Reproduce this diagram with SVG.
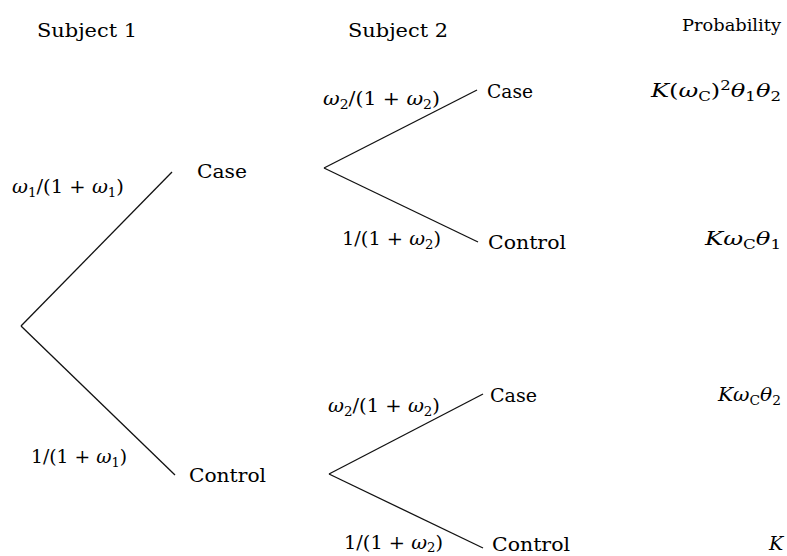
<svg xmlns="http://www.w3.org/2000/svg" width="787" height="556" viewBox="0 0 787 556" font-family="'DejaVu Serif', 'Liberation Serif', serif">
<style>
text{font-family:"DejaVu Serif","Liberation Serif",serif;font-size:19px;fill:#000;font-weight:normal}
.m{font-style:italic}
.r{font-style:normal}
.s{font-size:13px}
.edge{stroke:#111;stroke-width:1.3;fill:none}
</style>
<rect width="787" height="556" fill="#fff"/>
<g id="headers">
<text x="37" y="37" textLength="100" lengthAdjust="spacingAndGlyphs">Subject 1</text>
<text x="348" y="37" textLength="100" lengthAdjust="spacingAndGlyphs">Subject 2</text>
<text x="682" y="31" textLength="99" lengthAdjust="spacingAndGlyphs" style="font-size:17px">Probability</text>
</g>
<g id="connectors">
<line class="edge" x1="21" y1="326" x2="172" y2="172"/>
<line class="edge" x1="21" y1="326" x2="175" y2="475"/>
<line class="edge" x1="324" y1="168" x2="477" y2="90"/>
<line class="edge" x1="324" y1="168" x2="478" y2="242"/>
<line class="edge" x1="329" y1="474" x2="483" y2="394"/>
<line class="edge" x1="329" y1="474" x2="483" y2="548"/>
<text class="m" x="12" y="193" textLength="112" lengthAdjust="spacingAndGlyphs">ω<tspan class="s r" dy="4">1</tspan><tspan class="r" dy="-4">/(1 + </tspan>ω<tspan class="s r" dy="4">1</tspan><tspan class="r" dy="-4">)</tspan></text>
<text class="r" x="31" y="463" textLength="96" lengthAdjust="spacingAndGlyphs">1/(1 + <tspan class="m">ω</tspan><tspan class="s" dy="4">1</tspan><tspan dy="-4">)</tspan></text>
<text class="m" x="323" y="105" textLength="117" lengthAdjust="spacingAndGlyphs">ω<tspan class="s r" dy="4">2</tspan><tspan class="r" dy="-4">/(1 + </tspan>ω<tspan class="s r" dy="4">2</tspan><tspan class="r" dy="-4">)</tspan></text>
<text class="r" x="342" y="245" textLength="99" lengthAdjust="spacingAndGlyphs">1/(1 + <tspan class="m">ω</tspan><tspan class="s" dy="4">2</tspan><tspan dy="-4">)</tspan></text>
<text class="m" x="328" y="412" textLength="112" lengthAdjust="spacingAndGlyphs">ω<tspan class="s r" dy="4">2</tspan><tspan class="r" dy="-4">/(1 + </tspan>ω<tspan class="s r" dy="4">2</tspan><tspan class="r" dy="-4">)</tspan></text>
<text class="r" x="344" y="549" textLength="99" lengthAdjust="spacingAndGlyphs">1/(1 + <tspan class="m">ω</tspan><tspan class="s" dy="3">2</tspan><tspan dy="-3">)</tspan></text>
</g>
<g id="s1-case"><text x="197" y="178" textLength="50" lengthAdjust="spacingAndGlyphs">Case</text></g>
<g id="s1-control"><text x="189" y="482" textLength="77" lengthAdjust="spacingAndGlyphs">Control</text></g>
<g id="cc-case"><text x="487" y="98" textLength="46" lengthAdjust="spacingAndGlyphs">Case</text></g>
<g id="cc-control"><text x="488" y="249" textLength="78" lengthAdjust="spacingAndGlyphs">Control</text></g>
<g id="ctl-case"><text x="490" y="402" textLength="47" lengthAdjust="spacingAndGlyphs">Case</text></g>
<g id="ctl-control"><text x="492" y="551" textLength="78" lengthAdjust="spacingAndGlyphs">Control</text></g>
<g id="prob-1"><text class="m" x="651" y="97" textLength="130" lengthAdjust="spacingAndGlyphs">K<tspan class="r">(</tspan>ω<tspan class="s r" dy="4">C</tspan><tspan class="r" dy="-4">)</tspan><tspan class="s r" dy="-7">2</tspan><tspan dy="7">θ</tspan><tspan class="s r" dy="4">1</tspan><tspan dy="-4">θ</tspan><tspan class="s r" dy="4">2</tspan></text></g>
<g id="prob-2"><text class="m" x="705" y="245" textLength="76" lengthAdjust="spacingAndGlyphs">Kω<tspan class="s r" dy="4">C</tspan><tspan dy="-4">θ</tspan><tspan class="s r" dy="4">1</tspan></text></g>
<g id="prob-3"><text class="m" x="718" y="401" textLength="63" lengthAdjust="spacingAndGlyphs">Kω<tspan class="s r" dy="4">C</tspan><tspan dy="-4">θ</tspan><tspan class="s r" dy="4">2</tspan></text></g>
<g id="prob-4"><text class="m" x="769" y="550">K</text></g>
</svg>
